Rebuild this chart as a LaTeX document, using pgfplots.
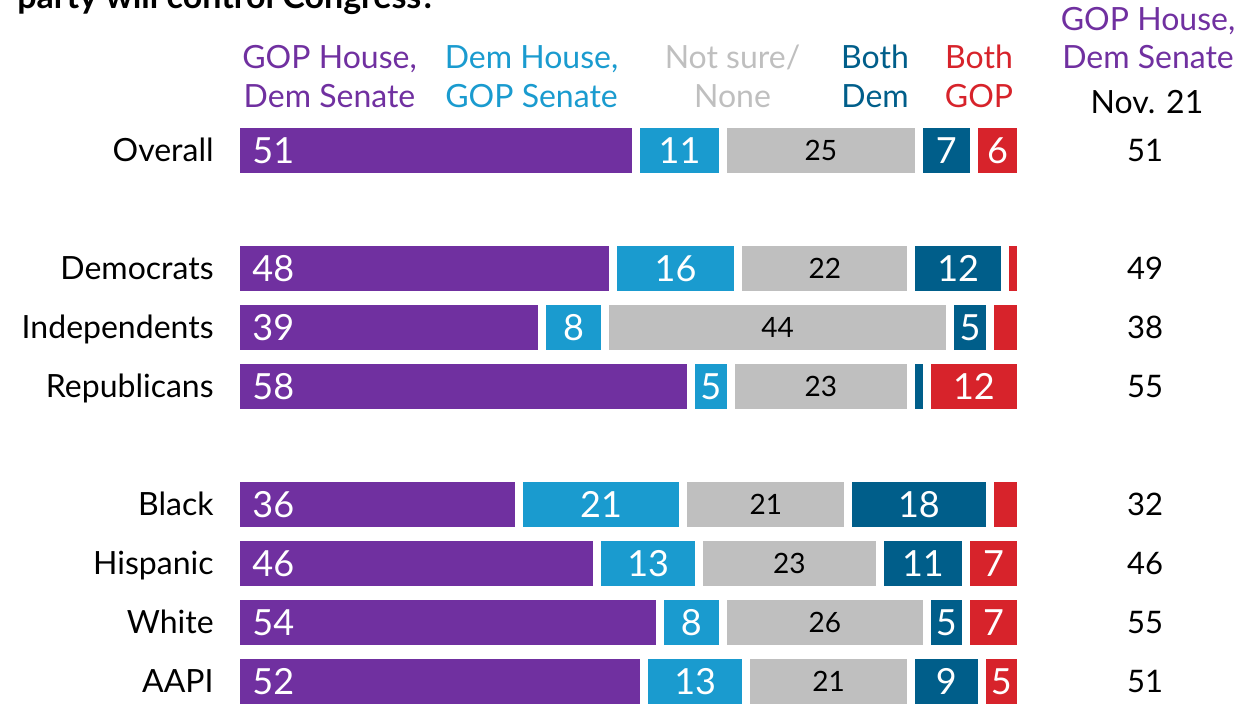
\documentclass[border=0pt]{standalone}
\usepackage{pgfplots}
\pgfplotsset{compat=1.18}
\usepackage{pgfplotstable}
\usepackage{fontspec}
\setmainfont{Lato}
\definecolor{cPur}{HTML}{7030A0}
\definecolor{cLBlue}{HTML}{1A9BCF}
\definecolor{cGray}{HTML}{BFBFBF}
\definecolor{cDBlue}{HTML}{005E8A}
\definecolor{cRed}{HTML}{D7232B}

\pgfplotstableread{
y a  b  c  d  e  p
0 51 11 25 7  6  51
2 48 16 22 12 2  49
3 39 8  44 5  4  38
4 58 5  23 2  12 55
6 36 21 21 18 4  32
7 46 13 23 11 7  46
8 54 8  26 5  7  55
9 52 13 21 9  5  51
}\data

\pgfplotsset{base/.style={
  at={(118pt,-60.5pt)}, anchor=north west, scale only axis,
  width=392.5pt, height=295pt,
  xmin=0, xmax=100, ymin=-0.5, ymax=9.5, y dir=reverse,
  clip=false
}}

\begin{document}
\begin{tikzpicture}
% title (cut at top as in the reference)
\node[anchor=base west, inner sep=0pt, font=\fontsize{17}{20}\selectfont\bfseries] at (8.5pt,-4pt) {party will control Congress?};
% column headers
\begin{scope}[every node/.style={anchor=base, inner sep=0pt, font=\fontsize{16}{19}\selectfont}]
\node[text=cPur] at (164.75pt,-34pt) {GOP House,};
\node[text=cPur] at (164.75pt,-53.5pt) {Dem Senate};
\node[text=cLBlue] at (265.75pt,-34pt) {Dem House,};
\node[text=cLBlue] at (265.75pt,-53.5pt) {GOP Senate};
\node[text=cGray] at (366.25pt,-34pt) {Not sure/};
\node[text=cGray] at (366.25pt,-53.5pt) {None};
\node[text=cDBlue] at (437.5pt,-34pt) {Both};
\node[text=cDBlue] at (437.5pt,-53.5pt) {Dem};
\node[text=cRed] at (489.5pt,-34pt) {Both};
\node[text=cRed] at (489.5pt,-53.5pt) {GOP};
\node[text=cPur] at (574pt,-15pt) {GOP House,};
\node[text=cPur] at (574pt,-34pt) {Dem Senate};
\node[text=black] at (573.5pt,-56.5pt) {Nov. 21};
\end{scope}

\begin{axis}[base, xbar stacked, bar width=26.75pt,
  axis line style={draw=none}, tick style={draw=none}, major tick length=0pt,
  xtick=\empty, ytick={0,2,3,4,6,7,8,9},
  yticklabels={Overall,Democrats,Independents,Republicans,Black,Hispanic,White,AAPI},
  yticklabel style={anchor=base east, inner sep=0pt, xshift=-11pt, yshift=-5.7pt, font=\fontsize{16}{19}\selectfont}]
\addplot[fill=cPur, draw=white, line width=4pt] table[x=a, y=y]{\data};
\addplot[fill=cLBlue, draw=white, line width=4pt] table[x=b, y=y]{\data};
\addplot[fill=cGray, draw=white, line width=4pt] table[x=c, y=y]{\data};
\addplot[fill=cDBlue, draw=white, line width=4pt] table[x=d, y=y]{\data};
\addplot[fill=cRed, draw=white, line width=4pt] table[x=e, y=y]{\data};
\end{axis}

\begin{axis}[base, hide axis]
\addplot[draw=none, nodes near coords, point meta=explicit symbolic,
  every node near coord/.style={anchor=base west, inner sep=0pt, xshift=8pt, yshift=-6.4pt, text=white, font=\fontsize{18}{20}\selectfont}]
  table[x expr=0, y=y, meta=a]{\data};
\addplot[draw=none, nodes near coords, point meta=explicit symbolic,
  every node near coord/.style={anchor=base, inner sep=0pt, yshift=-6.4pt, text=white, font=\fontsize{18}{20}\selectfont}]
  table[x expr=\thisrow{a}+\thisrow{b}/2, y=y, meta=b]{\data};
\addplot[draw=none, nodes near coords, point meta=explicit symbolic,
  every node near coord/.style={anchor=base, inner sep=0pt, yshift=-5pt, text=black, font=\fontsize{14}{16}\selectfont}]
  table[x expr=\thisrow{a}+\thisrow{b}+\thisrow{c}/2, y=y, meta=c]{\data};
\addplot[draw=none, point meta=explicit symbolic,
  nodes near coords={\ifdim\pgfplotspointmeta pt<3pt\else\pgfplotspointmeta\fi},
  every node near coord/.style={anchor=base, inner sep=0pt, yshift=-6.4pt, text=white, font=\fontsize{18}{20}\selectfont}]
  table[x expr=\thisrow{a}+\thisrow{b}+\thisrow{c}+\thisrow{d}/2, y=y, meta=d]{\data};
\addplot[draw=none, point meta=explicit symbolic,
  nodes near coords={\ifdim\pgfplotspointmeta pt<4.5pt\else\pgfplotspointmeta\fi},
  every node near coord/.style={anchor=base, inner sep=0pt, yshift=-6.4pt, text=white, font=\fontsize{18}{20}\selectfont}]
  table[x expr=\thisrow{a}+\thisrow{b}+\thisrow{c}+\thisrow{d}+\thisrow{e}/2, y=y, meta=e]{\data};
\addplot[draw=none, nodes near coords, point meta=explicit symbolic,
  every node near coord/.style={anchor=base, inner sep=0pt, yshift=-5.5pt, text=black, font=\fontsize{15.5}{18}\selectfont}]
  table[x expr=115.8, y=y, meta=p]{\data};
\end{axis}

\pgfresetboundingbox
\path[use as bounding box] (0pt,0pt) rectangle (617.5pt,-351.5pt);
\end{tikzpicture}
\end{document}
